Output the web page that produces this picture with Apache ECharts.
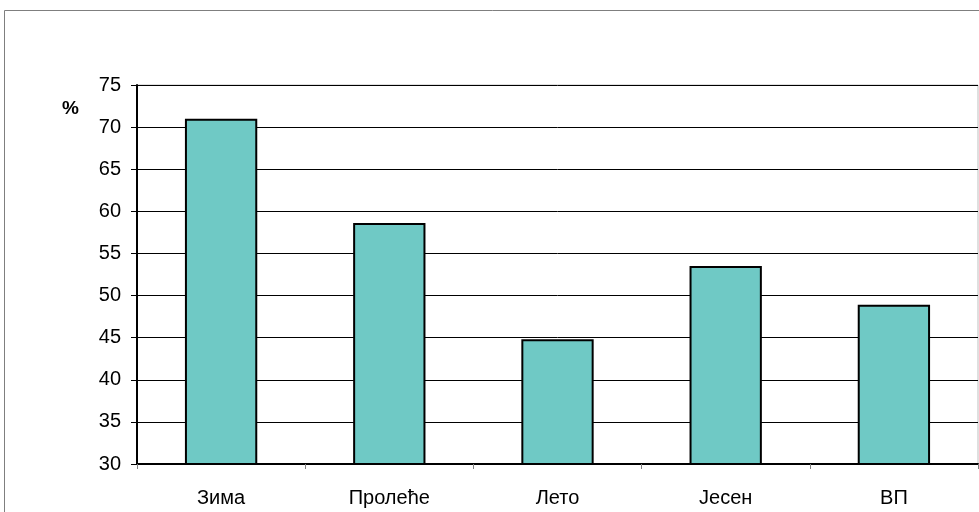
<!DOCTYPE html>
<html>
<head>
<meta charset="utf-8">
<script src="https://cdn.jsdelivr.net/npm/echarts@6/dist/echarts.min.js"></script>
<style>
  html, body { margin: 0; padding: 0; background: #fff; }
  #main { width: 979px; height: 512px; }
</style>
</head>
<body>
<div id="main"></div>
<script>
var chartDom = document.getElementById('main');
var myChart = echarts.init(chartDom);

// seasons and share in percent
var categories = ['Зима', 'Пролеће', 'Лето', 'Јесен', 'ВП'];
var values = [71.0, 58.6, 44.8, 53.5, 48.9];
var yTicks = [30, 35, 40, 45, 50, 55, 60, 65, 70, 75];

var font = '"Liberation Sans", Arial, sans-serif';

var option = {
    animation: false,
    backgroundColor: '#fff',
    graphic: [{
        type: 'rect',
        shape: { x: 4.5, y: 10.5, width: 990, height: 520 },
        style: { fill: 'none', stroke: '#7f7f7f', lineWidth: 1 },
        z: -1
    }, {
        type: 'text',
        left: 62, top: 99,
        style: { text: '%', font: 'bold 19px ' + font, fill: '#000' }
    }],
    grid: { left: 137, right: 1, top: 85, bottom: 48, show: true, borderColor: '#bfbfbf', borderWidth: 1 },
    xAxis: {
        type: 'category',
        data: categories,
        boundaryGap: true,
        axisLine: { lineStyle: { color: '#000', width: 2 } },
        axisTick: { show: true, length: 5, lineStyle: { color: '#808080', width: 1 } },
        axisLabel: { color: '#000', fontFamily: font, fontSize: 20, margin: 24 }
    },
    yAxis: {
        type: 'value',
        min: yTicks[0],
        max: yTicks[yTicks.length - 1],
        interval: 5,
        axisLine: { show: true, lineStyle: { color: '#000', width: 2 } },
        axisTick: { show: true, length: 6, lineStyle: { color: '#000' } },
        axisLabel: { color: '#000', fontFamily: font, fontSize: 20, margin: 16 },
        splitLine: { lineStyle: { color: '#000', width: 1 } }
    },
    series: [{
        type: 'bar',
        data: values,
        barWidth: '43%',
        itemStyle: { color: '#6fc9c5', borderColor: '#000', borderWidth: 2 }
    }]
};
option && myChart.setOption(option);
</script>
</body>
</html>
